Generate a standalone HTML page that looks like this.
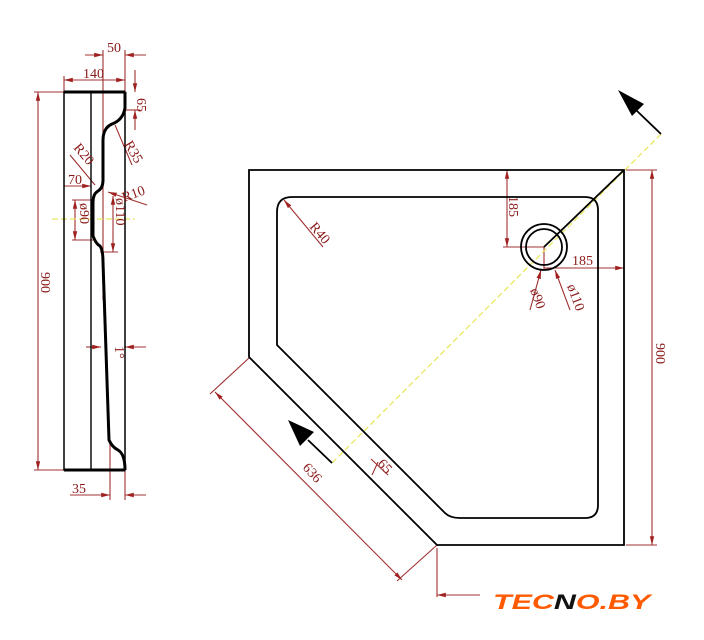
<!DOCTYPE html>
<html><head><meta charset="utf-8"><style>
html,body{margin:0;padding:0;background:#fff;}
svg{display:block;}
text{font-family:"Liberation Serif",serif;fill:#8b1a1a;}
</style></head><body>
<svg width="704" height="640" viewBox="0 0 704 640" xmlns="http://www.w3.org/2000/svg">
<defs>
<marker id="a" markerWidth="8" markerHeight="6" refX="8" refY="3" orient="auto-start-reverse"><path d="M0,1 L8,3 L0,5z" fill="#a02020"/></marker>
</defs>
<g stroke="#a03030" stroke-width="1.1" fill="none">
<line x1="38" y1="92" x2="38" y2="470" marker-start="url(#a)" marker-end="url(#a)"/>
<line x1="34" y1="92" x2="64" y2="92"/><line x1="34" y1="470" x2="64" y2="470"/>
<line x1="64" y1="80" x2="125" y2="80" marker-start="url(#a)" marker-end="url(#a)"/>
<line x1="64" y1="76" x2="64" y2="92"/><line x1="125" y1="50" x2="125" y2="92"/>
<line x1="85" y1="55" x2="103" y2="55" marker-end="url(#a)"/><line x1="125" y1="55" x2="146" y2="55" marker-start="url(#a)"/>
<line x1="103" y1="50" x2="103" y2="300"/>
<line x1="135" y1="70" x2="135" y2="92" marker-end="url(#a)"/><line x1="135" y1="110" x2="135" y2="130" marker-start="url(#a)"/>
<line x1="125" y1="110" x2="140" y2="110"/>
<line x1="115" y1="125" x2="132" y2="165"/>
<line x1="70" y1="155" x2="95" y2="185"/>
<line x1="64" y1="186" x2="91" y2="186" marker-end="url(#a)"/>
<line x1="108" y1="192" x2="147" y2="205" marker-start="url(#a)"/>
<line x1="75" y1="200" x2="75" y2="240" marker-start="url(#a)" marker-end="url(#a)"/>
<line x1="72" y1="200" x2="93" y2="200"/><line x1="72" y1="240" x2="93" y2="240"/>
<line x1="113" y1="196" x2="113" y2="252" marker-start="url(#a)" marker-end="url(#a)"/>
<line x1="100" y1="252" x2="118" y2="252"/>
<line x1="86" y1="347" x2="101" y2="347" marker-end="url(#a)"/><line x1="125" y1="347" x2="146" y2="347" marker-start="url(#a)"/>
<line x1="70" y1="495" x2="110" y2="495" marker-end="url(#a)"/><line x1="125" y1="495" x2="146" y2="495" marker-start="url(#a)"/>
<line x1="110" y1="440" x2="110" y2="500"/><line x1="125" y1="470" x2="125" y2="500"/>
<line x1="652" y1="170" x2="652" y2="545" marker-start="url(#a)" marker-end="url(#a)"/>
<line x1="626" y1="170" x2="657" y2="170"/><line x1="626" y1="545" x2="657" y2="545"/>
<line x1="507" y1="170" x2="507" y2="247" marker-start="url(#a)" marker-end="url(#a)"/>
<line x1="500" y1="170" x2="540" y2="170"/><line x1="503" y1="247" x2="544" y2="247"/>
<line x1="544" y1="268" x2="624" y2="268" marker-end="url(#a)"/>
<line x1="544" y1="247" x2="544" y2="270"/>
<line x1="530" y1="310" x2="541" y2="270" marker-end="url(#a)"/>
<line x1="570" y1="310" x2="555" y2="270" marker-end="url(#a)"/>
<line x1="284" y1="200" x2="323" y2="247" marker-start="url(#a)"/>
<line x1="215" y1="392" x2="402" y2="580" marker-start="url(#a)" marker-end="url(#a)"/>
<line x1="210" y1="394" x2="249" y2="358"/><line x1="397" y1="581" x2="437" y2="545"/>
<line x1="437" y1="548" x2="437" y2="597"/>
<line x1="437" y1="595" x2="480" y2="595" marker-start="url(#a)"/>
<line x1="371" y1="459" x2="388" y2="475"/><line x1="378" y1="462" x2="372" y2="475"/>
</g>
<g stroke="#e8e860" stroke-width="1.3" stroke-dasharray="6,3" fill="none">
<line x1="661" y1="134" x2="332" y2="463"/>
<line x1="52" y1="219" x2="135" y2="219"/>
</g>
<g stroke="#000" fill="none">
<rect x="64" y="92" width="61" height="378" stroke-width="1.5"/>
<line x1="91" y1="92" x2="91" y2="470" stroke-width="1.4"/>
<line x1="64" y1="92" x2="125" y2="92" stroke-width="3"/>
<line x1="64" y1="470" x2="125" y2="470" stroke-width="3"/>
<path d="M125,92 L125,108 Q123,120 112,124 Q103,128 103,140 L103,180 Q103,188 98,191 Q93,194 93,202 L93,236 Q96,244 100,246 Q103,250 103,262 L109,440 Q112,447 118,450 Q125,454 125,470" stroke-width="3"/>
</g>
<g stroke="#000" fill="none" stroke-width="1.8">
<path d="M249,170 L624,170 L624,545 L437,545 L249,357 Z"/>
<path d="M292,197 L585,197 Q598,197 598,210 L598,505 Q598,518 585,518 L460,518 Q450,518 445,513 L277,345 L277,212 Q277,197 292,197 Z"/>
<circle cx="544" cy="247" r="23"/>
<circle cx="544" cy="247" r="18"/>
<line x1="544" y1="247" x2="624" y2="170"/>
<line x1="661" y1="134" x2="636" y2="110"/>
<line x1="332" y1="463" x2="308" y2="440"/>
</g>
<path d="M618,90 L644,104 L632,116 Z" fill="#000"/>
<path d="M288,420 L314,432 L300,446 Z" fill="#000"/>
<g font-size="14">
<text x="107" y="52">50</text>
<text x="83" y="78">140</text>
<text x="137" y="98" transform="rotate(90 137 98)">65</text>
<text x="124" y="144" transform="rotate(60 124 144)">R35</text>
<text x="73" y="148" transform="rotate(50 73 148)">R20</text>
<text x="68" y="184">70</text>
<text x="124" y="202" transform="rotate(-20 124 202)">R10</text>
<text x="80" y="203" transform="rotate(90 80 203)">ø90</text>
<text x="116" y="198" transform="rotate(90 116 198)">ø110</text>
<text x="115" y="346" transform="rotate(90 115 346)">1°</text>
<text x="41" y="272" transform="rotate(90 41 272)">900</text>
<text x="72" y="493">35</text>
<text x="509" y="196" transform="rotate(90 509 196)">185</text>
<text x="572" y="265">185</text>
<text x="530" y="290" transform="rotate(70 530 290)">ø90</text>
<text x="567" y="286" transform="rotate(70 567 286)">ø110</text>
<text x="309" y="227" transform="rotate(50 309 227)">R40</text>
<text x="656" y="343" transform="rotate(90 656 343)">900</text>
<text x="302" y="468" transform="rotate(48 302 468)">636</text>
<text x="377" y="464" transform="rotate(48 377 464)">65</text>
</g>
<g transform="translate(493 609) scale(1.45 1)">
<text x="0" y="0" style="font-family:'Liberation Sans',sans-serif;font-weight:bold;font-style:italic;font-size:21px;fill:#ff5a00">TEC<tspan style="fill:#111">N</tspan>O.BY</text>
</g>
</svg>
</body></html>
